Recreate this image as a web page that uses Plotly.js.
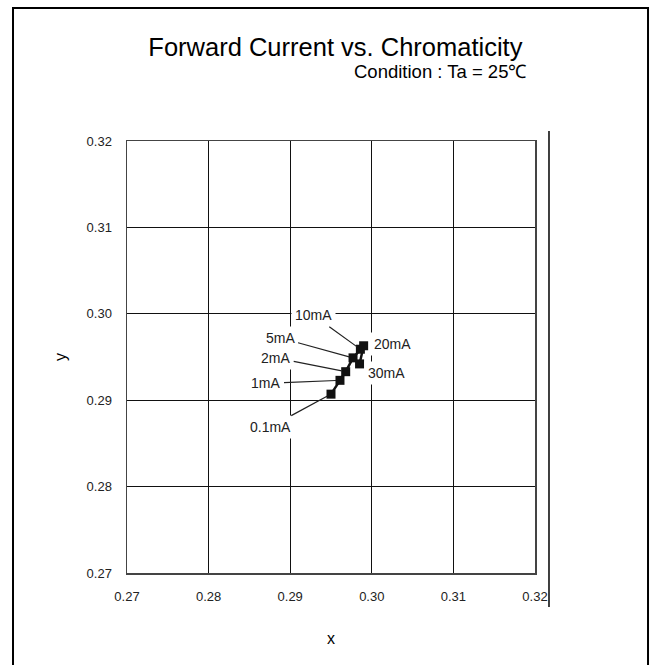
<!DOCTYPE html>
<html>
<head>
<meta charset="utf-8">
<script src="https://cdn.plot.ly/plotly-3.0.1.min.js"></script>
<style>
  html, body { margin: 0; padding: 0; background: #fff; }
  #chart { width: 650px; height: 665px; }
</style>
</head>
<body>
<div id="chart"></div>
<script>
// ---- data ----
const currents = ["0.1mA", "1mA", "2mA", "5mA", "10mA", "20mA", "30mA"];
const chromaX = [0.2950, 0.2961, 0.2968, 0.2977, 0.2986, 0.2990, 0.2985];
const chromaY = [0.2907, 0.2923, 0.2933, 0.2949, 0.2959, 0.2963, 0.2942];
const tickVals = [0.27, 0.28, 0.29, 0.30, 0.31, 0.32];
const tickText = ["0.27", "0.28", "0.29", "0.30", "0.31", "0.32"];

// label placement (pixel offsets from each point) – layout only
const labelLayout = {
  "0.1mA": {arrow: true, ax: -61, ay: 33},
  "1mA":   {arrow: true, ax: -74, ay: 3},
  "2mA":   {arrow: true, ax: -70, ay: -14},
  "5mA":   {arrow: true, ax: -73, ay: -20},
  "10mA":  {arrow: true, ax: -47, ay: -34},
  "20mA":  {arrow: false, xs: 29, ys: 2},
  "30mA":  {arrow: false, xs: 27, ys: -9}
};

const labelFont = {family: "Liberation Sans, Arial, sans-serif", size: 14, color: "#222"};

const annotations = currents.map((c, i) => {
  const L = labelLayout[c];
  const a = {
    x: chromaX[i], y: chromaY[i], xref: "x", yref: "y",
    text: c, font: labelFont, bgcolor: "#ffffff", borderpad: 3
  };
  if (L.arrow) {
    Object.assign(a, {showarrow: true, ax: L.ax, ay: L.ay, arrowhead: 0,
      arrowwidth: 1.2, arrowcolor: "#222", standoff: 4});
  } else {
    Object.assign(a, {showarrow: false, xshift: L.xs, yshift: L.ys});
  }
  return a;
});

annotations.push({
  xref: "paper", yref: "paper", x: 0.983, y: 1.16,
  xanchor: "right", yanchor: "middle", showarrow: false,
  text: "Condition : Ta = 25℃",
  font: {family: "Liberation Sans, Arial, sans-serif", size: 18.5, color: "#000"}
});

const trace = {
  x: chromaX, y: chromaY, type: "scatter", mode: "lines+markers",
  text: currents,
  line: {color: "#111", width: 2.5},
  marker: {symbol: "square", size: 9, color: "#111"},
  showlegend: false, hoverinfo: "text+x+y"
};

const axisCommon = {
  tickvals: tickVals, ticktext: tickText,
  showgrid: true, gridcolor: "#111", gridwidth: 1,
  showline: true, linecolor: "#444", linewidth: 1.5, mirror: true,
  zeroline: false, ticks: "",
  tickfont: {family: "Liberation Sans, Arial, sans-serif", size: 13, color: "#222"}
};

const layout = {
  width: 650, height: 665,
  margin: {l: 127, r: 115, t: 141, b: 92},
  paper_bgcolor: "#fff", plot_bgcolor: "#fff",
  title: {
    text: "Forward Current vs. Chromaticity",
    x: 0.516, xanchor: "center", xref: "container",
    y: 0.929, yanchor: "middle", yref: "container",
    font: {family: "Liberation Sans, Arial, sans-serif", size: 25.5, color: "#000"}
  },
  xaxis: Object.assign({}, axisCommon, {
    range: [0.27, 0.32], ticklabelstandoff: 11,
    title: {text: "x", standoff: 29, font: {family: "Liberation Sans, Arial, sans-serif", size: 16, color: "#000"}}
  }),
  yaxis: Object.assign({}, axisCommon, {
    range: [0.27, 0.32], ticklabelstandoff: 11,
    title: {text: "y", standoff: 16, font: {family: "Liberation Sans, Arial, sans-serif", size: 16, color: "#000"}}
  }),
  annotations: annotations,
  shapes: [
    // outer frame
    {type: "rect", xref: "paper", yref: "paper", x0: -0.2794, x1: 1.277, y0: -0.25, y1: 1.3079,
      line: {color: "#000", width: 2}, fillcolor: "rgba(0,0,0,0)", layer: "below"},
    // right-side vertical rule
    {type: "line", xref: "paper", yref: "paper", x0: 1.0343, x1: 1.0343, y0: -0.0787, y1: 1.023,
      line: {color: "#000", width: 1.5}}
  ],
  showlegend: false
};

Plotly.newPlot("chart", [trace], layout, {displayModeBar: false, staticPlot: true});
</script>
</body>
</html>
